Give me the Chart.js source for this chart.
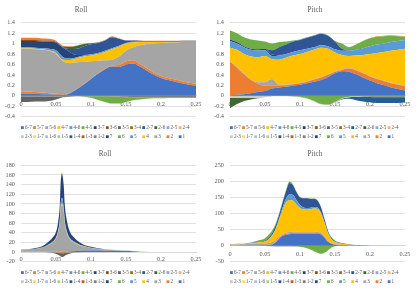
<!DOCTYPE html>
<html><head><meta charset="utf-8">
<script src="https://cdn.jsdelivr.net/npm/chart.js@4.4.1/dist/chart.umd.min.js"></script>
<style>
html,body{margin:0;padding:0;background:#fff;}
#wrap{position:relative;width:418px;height:289px;overflow:hidden;background:#fff;}
canvas{position:absolute;}
</style></head><body>
<div id="wrap">
<canvas id="c1" width="209" height="145" style="left:0;top:0"></canvas>
<canvas id="c2" width="209" height="145" style="left:209px;top:0"></canvas>
<canvas id="c3" width="209" height="145" style="left:0;top:145px"></canvas>
<canvas id="c4" width="209" height="145" style="left:209px;top:145px"></canvas>
</div>
<script>
// ---- series (stacking order) ----
const seriesNames = ['1','2','3','4','5','6','7','1-2','1-3','1-4','1-5','1-6','1-7','2-3','2-4','2-5','2-6','2-7','3-4','3-5','3-6','3-7','4-5','4-6','4-7','5-6','5-7','6-7'];
const seriesColors = ['#4472C4','#ED7D31','#A5A5A5','#FFC000','#5B9BD5','#70AD47','#264478','#7F7F7F','#C55A11','#2F5597','#A9D18E','#9DC3E6','#FFD966','#C9C9C9','#F4B183','#8FAADC','#43682B','#255E91','#997300','#636363','#9E480E','#264478','#70AD47','#5B9BD5','#FFC000','#A5A5A5','#ED7D31','#4472C4'];

// ---- top charts x ----
const xTop = [0,0.01,0.02,0.03,0.04,0.05,0.06,0.07,0.08,0.09,0.1,0.11,0.12,0.13,0.14,0.15,0.16,0.17,0.18,0.19,0.2,0.21,0.22,0.23,0.24,0.25];

// ---- Roll (top) ----
const rollTop_1  = [0.04,0.04,0.04,0.03,0.03,0.02,0.02,0.05,0.13,0.22,0.32,0.42,0.51,0.56,0.55,0.6,0.62,0.56,0.48,0.4,0.34,0.3,0.27,0.24,0.21,0.19];
const rollTop_2  = [0.04,0.04,0.03,0.03,0.02,0.02,0.01,0.005,0.01,0.01,0.01,0.01,0.01,0.02,0.04,0.06,0.06,0.05,0.05,0.04,0.04,0.04,0.04,0.04,0.04,0.04];
const rollTop_3  = [0.82,0.82,0.82,0.82,0.81,0.76,0.63,0.57,0.5,0.42,0.33,0.24,0.16,0.11,0.16,0.2,0.25,0.36,0.46,0.56,0.63,0.68,0.71,0.75,0.78,0.8];
const rollTop_4  = [0.01,0.01,0.01,0.01,0.01,0.02,0.03,0.06,0.08,0.1,0.11,0.13,0.16,0.2,0.19,0.14,0.09,0.06,0.04,0.03,0.02,0.01,0.01,0.005,0.005,0.005];
const rollTop_5  = [0.02,0.02,0.02,0.02,0.03,0.05,0.05,0.03,0.02,0.02,0.02,0.02,0.02,0.02,0.02,0.01,0.01,0.005,0.005,0.005,0.005,0.005,0.005,0.005,0.005,0.005];
const rollTop_7  = [0.12,0.12,0.13,0.13,0.14,0.15,0.18,0.12,0.04,0.01,0.005,0,0,0,0,0,0.01,0.01,0.01,0.01,0.01,0.01,0.01,0.01,0.01,0.01];
const rollTop_14 = [0,0,0,0,0,0,0.01,0.06,0.12,0.17,0.19,0.19,0.2,0.21,0.13,0.05,0.02,0.01,0.005,0.005,0.005,0.005,0.005,0.005,0.005,0.005];
const rollTop_26 = [0,0,0,0,0,0,0.01,0.04,0.06,0.04,0.02,0.01,0,0,0,0,0,0,0,0,0,0,0,0,0,0];
const rollTop_36 = [0.02,0.02,0.02,0.02,0.02,0.015,0.01,0.005,0,0,0,0,0,0,0,0,0,0,0,0,0,0,0,0,0,0];
const rollTop_57 = [0.04,0.04,0.04,0.035,0.03,0.02,0.01,0.01,0.005,0.005,0.005,0.005,0.01,0.02,0.01,0.005,0.005,0.005,0.005,0.005,0.005,0.005,0.005,0.005,0.005,0.005];
const rollTop_12 = [-0.02,-0.02,-0.02,-0.02,-0.02,-0.02,-0.01,-0.01,-0.01,-0.01,-0.01,-0.01,-0.01,-0.01,-0.015,-0.02,-0.025,-0.03,-0.03,-0.03,-0.03,-0.03,-0.03,-0.03,-0.03,-0.03];
const rollTop_13 = [0,0,0,0,0,0,0,0,0,0,0,0,0,0,-0.005,-0.01,-0.01,-0.01,-0.01,-0.01,-0.01,-0.01,-0.01,-0.01,-0.01,-0.01];
const rollTop_35 = [-0.1,-0.1,-0.09,-0.09,-0.08,-0.05,-0.02,-0.01,0,0,0,0,0,0,0,0,0,0,0,0,0,0,0,0,0,0];
const rollTop_45 = [0,0,0,0,0,0,0,0,0,-0.01,-0.03,-0.07,-0.11,-0.14,-0.13,-0.09,-0.05,-0.03,-0.02,-0.01,-0.01,-0.005,-0.005,-0.005,-0.005,-0.005];

// ---- Pitch (top) ----
const pitchTop_1  = [0.01,0.02,0.03,0.05,0.07,0.09,0.14,0.16,0.17,0.19,0.21,0.24,0.27,0.3,0.36,0.43,0.47,0.46,0.41,0.35,0.29,0.24,0.2,0.16,0.13,0.1];
const pitchTop_2  = [0.64,0.52,0.38,0.25,0.16,0.1,0.05,0.03,0.03,0.03,0.03,0.03,0.04,0.05,0.04,0.03,0.03,0.06,0.08,0.08,0.08,0.08,0.08,0.08,0.08,0.08];
const pitchTop_3  = [0.01,0.01,0.01,0.01,0.03,0.07,0.13,0.02,0.01,0.01,0.01,0.01,0.01,0.01,0.01,0.01,0.01,0.01,0.01,0.01,0.01,0.01,0.01,0.01,0.01,0.01];
const pitchTop_4  = [0.26,0.33,0.38,0.44,0.48,0.5,0.38,0.48,0.52,0.54,0.55,0.56,0.56,0.56,0.49,0.36,0.27,0.23,0.27,0.34,0.42,0.49,0.55,0.61,0.66,0.71];
const pitchTop_5  = [0.13,0.12,0.13,0.13,0.13,0.11,0.06,0.08,0.07,0.07,0.07,0.06,0.05,0.05,0.05,0.06,0.08,0.1,0.11,0.13,0.15,0.16,0.16,0.17,0.17,0.17];
const pitchTop_7  = [0.03,0.03,0.02,0.02,0.02,0.03,0.03,0.01,0,0,0,0,0,0,0,0,0,0,0,0,0,0,0,0,0,0];
const pitchTop_14 = [0,0,0,0,0,0,0.08,0.15,0.18,0.2,0.2,0.21,0.22,0.22,0.2,0.15,0.04,0.01,0,0,0,0,0,0,0,0];
const pitchTop_45 = [0.17,0.17,0.17,0.18,0.17,0.14,0.13,0.1,0.06,0.02,0.01,0.01,0.01,0.01,0.01,0.01,0.1,0.06,0.1,0.14,0.15,0.15,0.14,0.12,0.09,0.06];
const pitchTop_57 = [0,0,0,0,0,0,0,0,0,0,0,0,0,0,0,0,0,0,0,0,0.005,0.01,0.01,0.01,0.01,0.01];
const pitchTop_6  = [0,0,0,0,0,0,0,0,0,-0.01,-0.02,-0.05,-0.1,-0.16,-0.17,-0.12,-0.05,-0.02,-0.01,0,0,0,0,0,0,0];
const pitchTop_23 = [-0.04,-0.04,-0.04,-0.04,-0.04,-0.03,-0.01,-0.01,-0.01,-0.01,-0.01,-0.01,-0.01,-0.01,-0.01,-0.01,-0.01,-0.01,-0.01,-0.01,-0.01,-0.01,-0.01,-0.01,-0.01,-0.01];
const pitchTop_26 = [-0.2,-0.12,-0.06,-0.03,-0.01,0,0,0,0,0,0,0,0,0,0,0,0,0,-0.005,-0.01,-0.015,-0.02,-0.02,-0.02,-0.02,-0.02];
const pitchTop_27 = [0,0,0,0,0,0,0,0,0,0,0,0,0,0,0,0,-0.01,-0.03,-0.06,-0.09,-0.1,-0.11,-0.11,-0.11,-0.11,-0.1];

// ---- Roll (bottom) ----
const xRollBot = [0,0.01,0.02,0.03,0.038,0.045,0.0495,0.053,0.0555,0.0565,0.0585,0.061,0.0625,0.065,0.0707,0.075,0.084,0.09,0.1,0.11,0.12,0.13,0.14,0.15,0.16,0.17,0.2,0.25];
const rollBot_1  = [0.3,0.3,0.3,0.3,0.3,0.3,0.3,0.3,0.3,0.3,0.3,0.5,0.6,0.8,1.2,1.5,2.5,3,3,3,2.8,2.5,2.2,2,1.5,0.6,0,0];
const rollBot_2  = [0.5,0.5,0.5,0.5,0.5,0.5,0.5,0.5,0.5,0.5,0.5,0.5,0.5,0.5,0.5,0.5,0.3,0.3,0.2,0.2,0.2,0.2,0.1,0.1,0.1,0,0,0];
const rollBot_3  = [3.2,4,5.3,8,13,19,26,40,62,85,97,82,58,40,23,18,11,8,5,3,2,1.5,1.2,0.7,0.3,0.1,0,0];
const rollBot_4  = [0.1,0.1,0.1,0.2,0.4,0.6,0.8,1.2,2,2.5,3,2.5,2,1.6,1.2,1,0.8,0.6,0.4,0.3,0.2,0.2,0.1,0.1,0.05,0,0,0];
const rollBot_5  = [0.2,0.2,0.3,0.3,0.5,0.8,1.2,2,4,7,12,8,5,3,1.5,1.2,0.7,0.5,0.4,0.3,0.2,0.2,0.1,0.1,0.05,0,0,0];
const rollBot_7  = [0.5,0.7,1.3,2.5,5,8.4,10.7,17.3,30.2,43.2,49.2,45,32.9,23.3,12,9.3,4.3,2.3,1.8,1,0.5,0.3,0.2,0,0,0,0,0];
const rollBot_57 = [0.2,0.2,0.2,0.2,0.3,0.4,0.5,0.7,1,1.5,3,1.5,1,0.8,0.6,0.5,0.4,0.3,0.2,0.2,0.1,0.1,0.1,0.1,0.1,0.05,0,0];
const rollBot_13 = [0,0,0,0,0,0,-0.3,-0.6,-0.8,-1,-1,-1,-0.8,-0.6,-0.3,0,0,0,0,0,0,0,0,0,0,0,0,0];
const rollBot_23 = [-0.5,-0.5,-0.5,-0.5,-0.5,-0.5,-0.5,-0.5,-0.5,-0.5,-0.5,-0.5,-0.5,-0.5,-0.5,-0.5,-0.5,-0.5,-0.5,-0.4,-0.3,-0.3,-0.2,-0.2,-0.1,0,0,0];
const rollBot_34 = [0,0,0,0,0,0,-0.2,-0.4,-0.6,-0.8,-1,-0.8,-0.6,-0.4,-0.2,0,0,0,0,0,0,0,0,0,0,0,0,0];
const rollBot_35 = [0,0,0,0,-0.3,-1.2,-2.5,-4,-5.5,-6.5,-8,-7,-5.5,-4,-2,-1,-0.3,0,0,0,0,0,0,0,0,0,0,0];

// ---- Pitch (bottom) ----
const xPitchBot = [0,0.01,0.02,0.03,0.04,0.05,0.055,0.06,0.065,0.07,0.075,0.08,0.085,0.09,0.095,0.1,0.105,0.11,0.115,0.12,0.125,0.13,0.135,0.14,0.145,0.15,0.16,0.17,0.18,0.19,0.2,0.22,0.25];
const pitchBot_1  = [0,0,0.2,0.3,0.5,1,2,4,10,22,30,34,36,37,38,38,38,38,38,38,38,35,25,12,6,3,1,0.5,0.2,0,0,0,0];
const pitchBot_2  = [0.5,0.5,0.5,0.5,0.8,1,1.2,1.5,2,2.5,3,3,3,3,3,3,3,3,3,3.5,4,3.5,2.5,1.5,1,0.5,0.3,0.2,0.2,0.1,0.1,0,0];
const pitchBot_3  = [3,3.5,4,5,6,5,5,5,5,4,3.5,3.5,4,4,3,2,1.5,1.5,1.5,1.5,1.5,1.5,1.5,1.5,1.5,1.5,1,0.8,0.5,0.3,0.2,0.1,0];
const pitchBot_4  = [0.5,1,1.3,2,3,6,11,21,33,51,73,94,100,96,84,75,71,70,71,73,71,60,41,23,11.5,7,3.7,1.7,0.8,0.4,0.2,0.1,0];
const pitchBot_5  = [0.3,0.3,0.3,0.4,0.5,0.8,0.8,1,2,4,8,12,17,18,14,9,6,5,5,5,5,4,3,2,1,0.5,0.3,0.1,0,0,0,0,0];
const pitchBot_14 = [0,0,0,0.3,1.2,2.2,4,6.5,11,12.5,16.5,23.5,36,31,25,24,28.5,30.5,27.5,25,21.5,16,10,6,4,2.5,1.2,1,0.5,0.3,0.2,0.1,0];
const pitchBot_45 = [0.7,0.7,0.7,1.5,4,7,10,8,5,4,3,3,4,2,1,1,1,1,1,1,1,1,1,1,1,1,0.5,0.5,0.3,0.2,0.1,0,0];
const pitchBot_6  = [0,0,0,0,0,0,0,0,0,0,0,0,0,-1,-2,-3,-5,-8,-12,-17,-22,-25,-22,-14,-6,-2,-0.5,0,0,0,0,0,0];
const pitchBot_23 = [0,0,0,0,0,-1,-2,-3,-4,-4,-4,-4,-4,-3,-2,-1.5,-1,-1,-1,-1,-1,-1,-1,-1,-1,-0.5,-0.3,0,0,0,0,0,0];

// ---- tables built from the arrays ----
const rollTopSeries  = {'1':rollTop_1,'2':rollTop_2,'3':rollTop_3,'4':rollTop_4,'5':rollTop_5,'7':rollTop_7,'1-4':rollTop_14,'2-6':rollTop_26,'3-6':rollTop_36,'5-7':rollTop_57,'1-2':rollTop_12,'1-3':rollTop_13,'3-5':rollTop_35,'4-5':rollTop_45};
const pitchTopSeries = {'1':pitchTop_1,'2':pitchTop_2,'3':pitchTop_3,'4':pitchTop_4,'5':pitchTop_5,'7':pitchTop_7,'1-4':pitchTop_14,'4-5':pitchTop_45,'5-7':pitchTop_57,'6':pitchTop_6,'2-3':pitchTop_23,'2-6':pitchTop_26,'2-7':pitchTop_27};
const rollBotSeries  = {'1':rollBot_1,'2':rollBot_2,'3':rollBot_3,'4':rollBot_4,'5':rollBot_5,'7':rollBot_7,'5-7':rollBot_57,'1-3':rollBot_13,'2-3':rollBot_23,'3-4':rollBot_34,'3-5':rollBot_35};
const pitchBotSeries = {'1':pitchBot_1,'2':pitchBot_2,'3':pitchBot_3,'4':pitchBot_4,'5':pitchBot_5,'1-4':pitchBot_14,'4-5':pitchBot_45,'6':pitchBot_6,'2-3':pitchBot_23};

const FONT = '"Liberation Serif", "Times New Roman", serif';
const TXT = '#595959';

const panelPlugin = {
  id: 'panel',
  afterDraw(chart, args, opts) {
    const ctx = chart.ctx;
    ctx.save();
    ctx.fillStyle = TXT;
    ctx.font = '7.2px ' + FONT;
    ctx.textAlign = 'center';
    ctx.textBaseline = 'middle';
    ctx.fillText(opts.title, opts.titleX, opts.titleY);
    const ds = chart.data.datasets;
    ctx.font = '5.2px ' + FONT;
    ctx.textAlign = 'left';
    for (let k = 0; k < ds.length; k++) {
      const d = ds[ds.length - 1 - k];
      const col = k % 14, row = Math.floor(k / 14);
      const x = 21 + col * 12.13, y = opts.legendY[row];
      ctx.fillStyle = d.backgroundColor;
      ctx.fillRect(x, y - 1.4, 2.8, 2.8);
      ctx.fillStyle = TXT;
      ctx.fillText(d.label, x + 3.9, y + 0.2);
    }
    ctx.restore();
  }
};

function makeChart(id, c) {
  const last = {p: null, n: null};
  const datasets = seriesNames.map((name, i) => {
    const data = c.series[name] || [];
    const neg = data.length > 0 && data.every(v => v <= 0) && data.some(v => v < 0);
    const grp = neg ? 'n' : 'p';
    let fill = false;
    if (data.length) {
      fill = last[grp] === null ? 'origin' : last[grp];
      last[grp] = i;
    }
    return {
      label: name, data: data, stack: grp, fill: fill,
      backgroundColor: seriesColors[i], borderColor: seriesColors[i],
      borderWidth: 0, pointRadius: 0, pointHoverRadius: 0,
      cubicInterpolationMode: 'monotone'
    };
  });
  new Chart(document.getElementById(id), {
    type: 'line',
    data: {labels: c.x, datasets: datasets},
    options: {
      responsive: false, animation: false, events: [],
      layout: {padding: {top: c.padTop, bottom: c.padBottom, left: 0, right: 13}},
      plugins: {
        legend: {display: false}, title: {display: false}, tooltip: {enabled: false},
        panel: {title: c.title, titleX: c.titleX, titleY: c.titleY, legendY: [127.6, 136.7]}
      },
      scales: {
        x: {
          type: 'linear', min: 0, max: 0.25, position: {y: 0},
          grid: {display: false, drawTicks: false},
          border: {display: true, color: '#D9D9D9', width: 1},
          ticks: {stepSize: 0.05, padding: c.xPad, color: TXT, font: {family: FONT, size: 6.3},
                  maxRotation: 0, autoSkip: false, callback: v => String(+v.toFixed(2))},
          afterFit: s => { s.height = 0; }
        },
        y: {
          stacked: true, min: c.yMin, max: c.yMax,
          grid: {color: '#D9D9D9', lineWidth: 0.8, drawTicks: false},
          border: {display: false},
          ticks: {stepSize: c.yStep, padding: 6, color: TXT, font: {family: FONT, size: 6.3},
                  autoSkip: false, callback: v => String(+v.toFixed(c.dec))},
          afterFit: s => { s.width = 21; }
        }
      }
    },
    plugins: [panelPlugin]
  });
}

makeChart('c1', {x: xTop, series: rollTopSeries, yMin: -0.4, yMax: 1.4, yStep: 0.2, dec: 1,
  title: 'Roll', titleX: 81, titleY: 10, padTop: 22.7, padBottom: 28.4, xPad: 5});
makeChart('c2', {x: xTop, series: pitchTopSeries, yMin: -0.4, yMax: 1.4, yStep: 0.2, dec: 1,
  title: 'Pitch', titleX: 106, titleY: 10.3, padTop: 22.7, padBottom: 28.4, xPad: 5});
makeChart('c3', {x: xRollBot, series: rollBotSeries, yMin: -20, yMax: 180, yStep: 20, dec: 0,
  title: 'Roll', titleX: 105, titleY: 9.3, padTop: 20.3, padBottom: 28.3, xPad: 4});
makeChart('c4', {x: xPitchBot, series: pitchBotSeries, yMin: -50, yMax: 250, yStep: 50, dec: 0,
  title: 'Pitch', titleX: 106, titleY: 9.3, padTop: 20.6, padBottom: 28.3, xPad: 5});
</script>
</body></html>
